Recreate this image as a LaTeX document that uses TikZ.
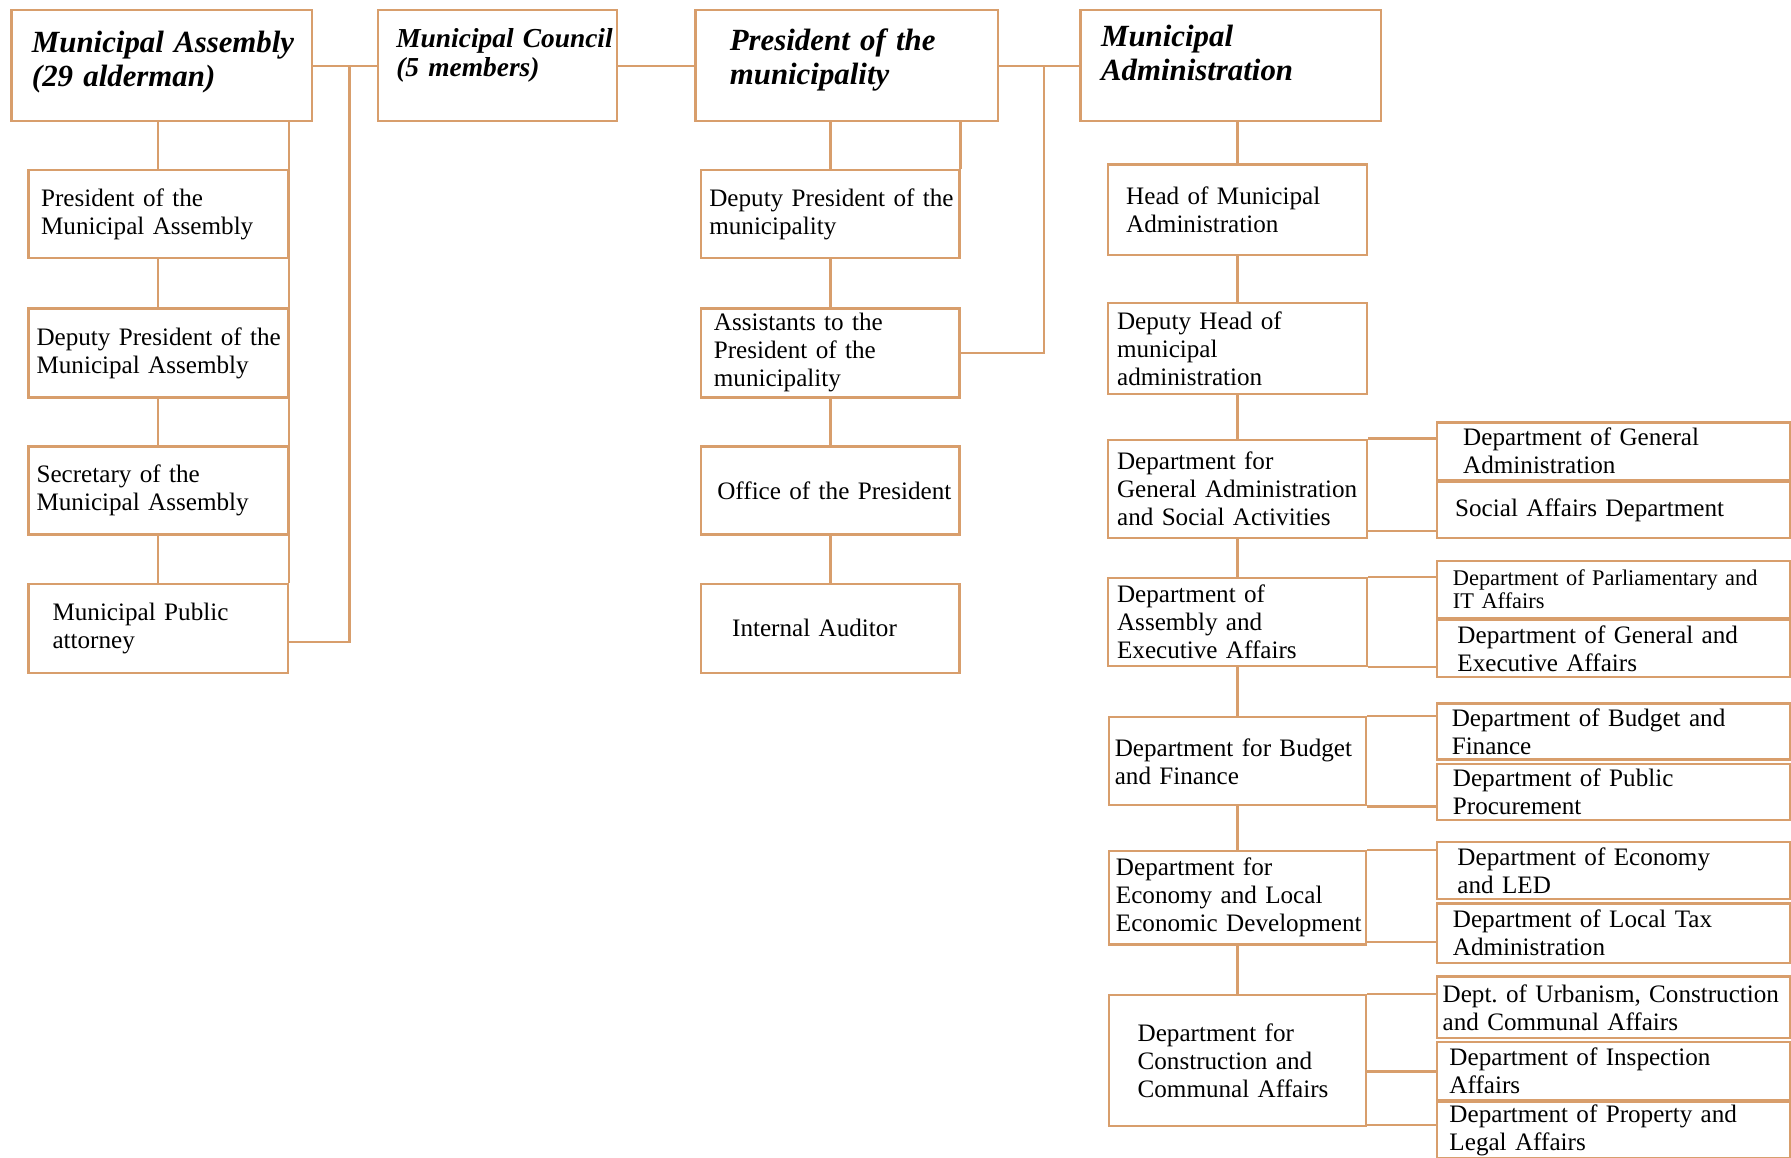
\documentclass[tikz,border=0pt]{standalone}
\usepackage{fontspec}
\setmainfont{Liberation Serif}
\usepackage{tikz}
\usetikzlibrary{positioning,calc}
\definecolor{orgline}{RGB}{216,158,108}
\frenchspacing

\begin{document}
\begin{tikzpicture}[x=0.5pt,y=-0.5pt,font=\fontsize{11}{12.25}\selectfont]
\tikzset{
  unit/.style={draw=orgline,line width=1pt,fill=white,anchor=north west,align=left,inner xsep=0pt,inner ysep=0pt},
  head/.style={unit,font=\fontsize{13.5}{15}\selectfont\bfseries\itshape},
  dim/.style n args={3}{text width=#1,minimum height=#2,execute at begin node={\leftskip=#3\relax}},
  lift/.style={execute at end node={\par\kern#1}},
  link/.style={draw=orgline,line width=1pt}
}
\useasboundingbox (0,0) rectangle (1568,1013);

\node(ma)[head,dim={131.5pt}{48.5pt}{9pt},lift=3pt] at (9,8) {Municipal Assembly\\(29 alderman)};
\node(mc)[head,dim={104.5pt}{48.5pt}{8pt},lift=9pt,font=\fontsize{12}{13}\selectfont\bfseries\itshape] at (330,8) {Municipal Council\\(5 members)};
\node(pm)[head,dim={132.5pt}{48.5pt}{15pt},lift=5pt] at (608,8) {President of the\\municipality};
\node(mad)[head,dim={131.5pt}{48.5pt}{9pt},lift=11pt] at (945,8) {Municipal\\Administration};

\node(pma)[unit,dim={113.5pt}{38.5pt}{5.5pt}] at (24,148) {President of the\\Municipal Assembly};
\node(dma)[unit,dim={113.5pt}{39pt}{3.5pt},below=21pt of pma] {Deputy President of the\\Municipal Assembly};
\node(sma)[unit,dim={113.5pt}{38.5pt}{3.5pt},below=20.5pt of dma] {Secretary of the\\Municipal Assembly};
\node(mpa)[unit,dim={113.5pt}{39pt}{10.5pt},below=20.5pt of sma] {Municipal Public\\attorney};

\node(dpm)[unit,dim={113pt}{38.5pt}{3.5pt}] at (613,148) {Deputy President of the\\municipality};
\node(apm)[unit,dim={113pt}{39pt}{5.5pt},below=21pt of dpm] {Assistants to the\\President of the\\municipality};
\node(opm)[unit,dim={113pt}{38.5pt}{7pt},below=20.5pt of apm] {Office of the President};
\node(ia)[unit,dim={113pt}{39pt}{13.5pt},below=20.5pt of opm] {Internal Auditor};

\node(hma)[unit,dim={113.5pt}{39.5pt}{8pt}] at (969,143) {Head of Municipal\\Administration};
\node(dhma)[unit,dim={113.5pt}{40pt}{4pt},below=20pt of hma] {Deputy Head of\\municipal\\administration};
\node(dgasa)[unit,dim={113.5pt}{43pt}{4pt},below=19pt of dhma] {Department for\\General Administration\\and Social Activities};
\node(daea)[unit,dim={113.5pt}{38.5pt}{4pt},below=16.5pt of dgasa] {Department of\\Assembly and\\Executive Affairs};
\node(dbf)[unit,dim={112.5pt}{38.5pt}{2.5pt},below=21.5pt of daea] {Department for Budget\\and Finance};
\node(deled)[unit,dim={112.5pt}{41pt}{3pt},below=19pt of dbf] {Department for\\Economy and Local\\Economic Development};
\node(dcca)[unit,dim={112.5pt}{57.5pt}{12.5pt},below=21pt of deled] {Department for\\Construction and\\Communal Affairs};

\node(dga)[unit,dim={154.5pt}{25pt}{11.5pt}] at (1257,369) {Department of General\\Administration};
\node(sad)[unit,dim={154.5pt}{24.5pt}{8pt}] at (1257,421) {Social Affairs Department};
\node(dpit)[unit,dim={154.5pt}{25pt}{7pt},font=\fontsize{9.8}{10}\selectfont] at (1257,490) {Department of Parliamentary and\\IT Affairs};
\node(dgea)[unit,dim={154.5pt}{25pt}{9pt}] at (1257,542) {Department of General and\\Executive Affairs};
\node(dbuf)[unit,dim={154.5pt}{24.5pt}{6.5pt}] at (1257,615) {Department of Budget and\\Finance};
\node(dpp)[unit,dim={154.5pt}{24.5pt}{7pt}] at (1257,668) {Department of Public\\Procurement};
\node(del)[unit,dim={154.5pt}{25pt}{9pt}] at (1257,736) {Department of Economy\\and LED};
\node(dlta)[unit,dim={154.5pt}{26pt}{7pt}] at (1257,790) {Department of Local Tax\\Administration};
\node(ducc)[unit,dim={154.5pt}{27pt}{2.5pt}] at (1257,854) {Dept. of Urbanism, Construction\\and Communal Affairs};
\node(dia)[unit,dim={154.5pt}{25.5pt}{5.5pt}] at (1257,911) {Department of Inspection\\Affairs};
\node(dpla)[unit,dim={154.5pt}{24.5pt}{5.5pt}] at (1257,964) {Department of Property and\\Legal Affairs};

\draw[link](ma)--(mc); \draw[link](mc)--(pm); \draw[link](pm)--(mad);
\coordinate(ma-bus) at ($(ma.east)!0.57!(mc.west)$);
\coordinate(pm-bus) at ($(pm.east)!0.555!(mad.west)$);
\draw[link](ma-bus) |- ([yshift=-6pt]mpa.east);
\draw[link](pm-bus) |- (apm.east);
\draw[link](ma.south -| pma.north)--(pma);
\draw[link](ma.south -| pma.north east)--(mpa.north east);
\draw[link](pm.south -| dpm.north)--(dpm);
\draw[link](pm.south -| dpm.north east)--(dpm.north east);
\draw[link](mad.south -| hma.north)--(hma);
\foreach \a/\b in {pma/dma,dma/sma,sma/mpa,dpm/apm,apm/opm,opm/ia,hma/dhma,dhma/dgasa,dgasa/daea,daea/dbf,dbf/deled,deled/dcca}
  \draw[link](\a.south)--(\a.south |- \b.north);
\foreach \p/\c/\dy in {dgasa.north east/dga/0,dgasa.south east/sad/-7,daea.north east/dpit/0,daea.south east/dgea/0,dbf.north east/dbuf/0,dbf.south east/dpp/0,deled.north east/del/0,deled.south east/dlta/-3,dcca.north east/ducc/0,dcca.east/dia/9.5,dcca.south east/dpla/-2}
  {\path($(\p)+(0,\dy)$) coordinate(s); \draw[link](s)--(s -| \c.west);}
\end{tikzpicture}
\end{document}
